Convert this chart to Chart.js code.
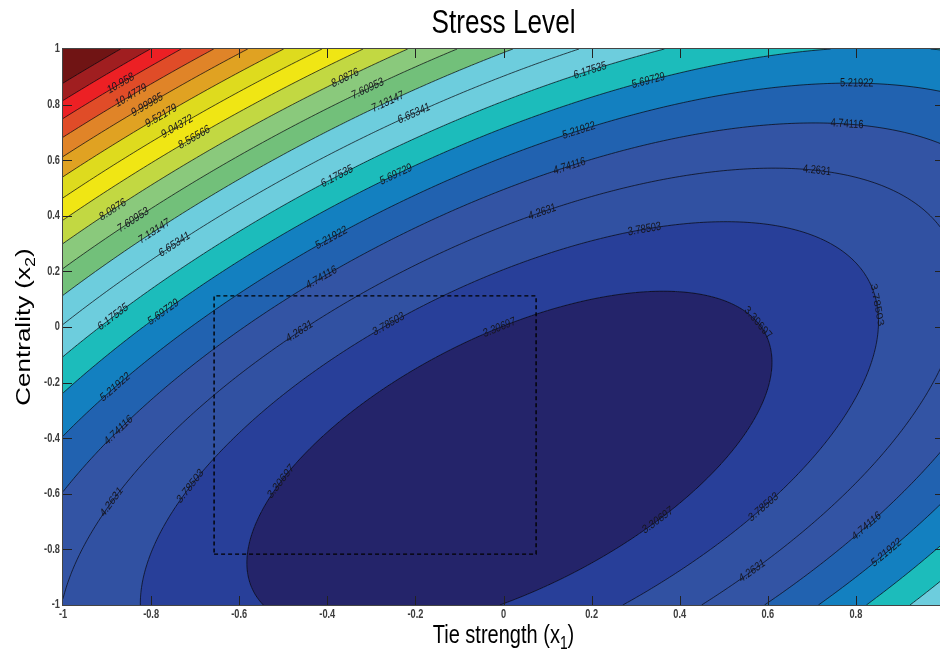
<!DOCTYPE html>
<html lang="en">
<head>
  <meta charset="UTF-8">
  <title>Stress Level</title>
  <script src="https://cdn.jsdelivr.net/npm/chart.js"></script>
  <style>
    * { box-sizing: border-box; margin: 0; padding: 0; }
    html, body { width: 940px; height: 656px; overflow: hidden; background: #fff; }
    #wrap { position: absolute; left: 0; top: 0; width: 960px; height: 656px; }
  </style>
</head>
<body>
  <div id="wrap"><canvas id="stressChart" width="960" height="656"></canvas></div>

  <script>
    // contour levels as printed on the lines (the top two are unlabeled)
    const levels = [3.30697, 3.78503, 4.2631, 4.74116, 5.21922, 5.69729, 6.17535, 6.65341,
                    7.13147, 7.60953, 8.0876, 8.56566, 9.04372, 9.52179, 9.99985, 10.4779,
                    10.958, 11.436, 11.9141];
    const bandColors = ['#24246a', '#283f99', '#3151a2', '#3354a4', '#2162b0', '#1380c0',
                        '#1cbcbb', '#6dcddd', '#6dcddd', '#72c07a', '#8ac97c', '#c2d842',
                        '#f0e614', '#dedb1e', '#e0a222', '#e08428', '#e04c28', '#ec2024',
                        '#a01e20', '#701414'];

    // quadratic stress surface: 1, x1, x2, x1^2, x2^2, x1*x2
    const surfaceCoef = [3.2997, -1.2153, 1.9456, 2.0981, 1.9622, -2.3766];

    const xTicks = [-1, -0.8, -0.6, -0.4, -0.2, 0, 0.2, 0.4, 0.6, 0.8, 1];
    const yTicks = [-1, -0.8, -0.6, -0.4, -0.2, 0, 0.2, 0.4, 0.6, 0.8, 1];
    const xTickText = ['-1', '-0.8', '-0.6', '-0.4', '-0.2', '0', '0.2', '0.4', '0.6', '0.8', '1'];
    const yTickText = ['-1', '-0.8', '-0.6', '-0.4', '-0.2', '0', '0.2', '0.4', '0.6', '0.8', '1'];

    // where the inline labels sit (x1, x2, level)
    const labelX = [-0.871, -0.848, -0.809, -0.773, -0.739, -0.700, -0.886, -0.841, -0.791, -0.734,
                    -0.886, -0.773, -0.882, -0.875, -0.889, -0.705, -0.501, -0.360, -0.310, -0.262,
                    -0.205, 0.196, -0.376, -0.251, 0.174, -0.394, 0.151, 0.090, 0.328, 0.802,
                    0.780, 0.712, 0.321, -0.439, -0.457, -0.258, -0.015, 0.564, 0.843, 0.348,
                    0.589, 0.560, 0.827, 0.871];
    const labelY = [0.878, 0.835, 0.799, 0.755, 0.719, 0.680, 0.421, 0.385, 0.342, 0.284,
                    0.036, 0.054, -0.216, -0.371, -0.630, -0.576, -0.558, 0.896, 0.860, 0.809,
                    0.770, 0.924, 0.540, 0.558, 0.701, 0.324, 0.576, 0.410, 0.888, 0.878,
                    0.730, 0.565, 0.349, 0.205, -0.022, 0.007, 0.007, 0.007, 0.079, -0.694,
                    -0.647, -0.874, -0.719, -0.813];
    const labelLevel = [10.958, 10.4779, 9.99985, 9.52179, 9.04372, 8.56566, 8.0876, 7.60953, 7.13147, 6.65341,
                        6.17535, 5.69729, 5.21922, 4.74116, 4.2631, 3.78503, 3.30697, 8.0876, 7.60953, 7.13147,
                        6.65341, 6.17535, 6.17535, 5.69729, 5.21922, 5.21922, 4.74116, 4.2631, 5.69729, 5.21922,
                        4.74116, 4.2631, 3.78503, 4.74116, 4.2631, 3.78503, 3.30697, 3.30697, 3.78503, 3.30697,
                        3.78503, 4.2631, 4.74116, 5.21922];

    // dashed box
    const boxX = [-0.657, 0.074];
    const boxY = [-0.817, 0.112];

    const c = surfaceCoef;
    function stress(a, b) {
      return c[0] + c[1] * a + c[2] * b + c[3] * a * a + c[4] * b * b + c[5] * a * b;
    }
    function bandOf(z) {
      let k = 0;
      while (k < levels.length && z >= levels[k]) k++;
      return k;
    }
    function hexRgb(h) {
      return [parseInt(h.slice(1, 3), 16), parseInt(h.slice(3, 5), 16), parseInt(h.slice(5, 7), 16)];
    }

    const SQUEEZE = 0.77; // the picture's text is narrower than it is tall
    function squeezedText(ctx, txt, x, y, font, align, angle) {
      ctx.save();
      ctx.translate(x, y);
      ctx.scale(SQUEEZE, 1);
      if (angle) ctx.rotate(angle);
      ctx.font = font;
      ctx.textAlign = align || 'center';
      ctx.fillText(txt, 0, 0);
      ctx.restore();
    }

    const contourPlugin = {
      id: 'contour',
      beforeDatasetsDraw(chart) {
        const { ctx, chartArea: a, scales: { x, y } } = chart;
        const left = Math.round(a.left), top = Math.round(a.top);
        const w = Math.round(a.right) - left, h = Math.round(a.bottom) - top;
        const img = ctx.createImageData(w, h);
        const rgb = bandColors.map(hexRgb);
        for (let j = 0; j < h; j++) {
          const v2 = y.getValueForPixel(top + j + 0.5);
          for (let i = 0; i < w; i++) {
            const col = rgb[bandOf(stress(x.getValueForPixel(left + i + 0.5), v2))];
            const o = (j * w + i) * 4;
            img.data[o] = col[0]; img.data[o + 1] = col[1]; img.data[o + 2] = col[2]; img.data[o + 3] = 255;
          }
        }
        ctx.putImageData(img, left, top);

        // contour lines, marching squares on a fine grid
        const N = 220;
        const gv = [];
        for (let j = 0; j <= N; j++) {
          gv.push([]);
          for (let i = 0; i <= N; i++) gv[j].push(stress(-1 + 2 * i / N, -1 + 2 * j / N));
        }
        const px = i => x.getPixelForValue(-1 + 2 * i / N);
        const py = j => y.getPixelForValue(-1 + 2 * j / N);
        ctx.save();
        ctx.beginPath();
        ctx.rect(a.left, a.top, a.right - a.left, a.bottom - a.top);
        ctx.clip();
        ctx.strokeStyle = 'rgba(8,8,16,0.9)';
        ctx.lineWidth = 0.8;
        levels.forEach(L => {
          ctx.beginPath();
          for (let j = 0; j < N; j++) {
            for (let i = 0; i < N; i++) {
              const cell = [[i, j, gv[j][i]], [i + 1, j, gv[j][i + 1]], [i + 1, j + 1, gv[j + 1][i + 1]], [i, j + 1, gv[j + 1][i]]];
              const pts = [];
              for (let e = 0; e < 4; e++) {
                const p = cell[e], q = cell[(e + 1) % 4];
                if ((p[2] < L) !== (q[2] < L)) {
                  const t = (L - p[2]) / (q[2] - p[2]);
                  pts.push([px(p[0] + t * (q[0] - p[0])), py(p[1] + t * (q[1] - p[1]))]);
                }
              }
              for (let k = 0; k + 1 < pts.length; k += 2) {
                ctx.moveTo(pts[k][0], pts[k][1]);
                ctx.lineTo(pts[k + 1][0], pts[k + 1][1]);
              }
            }
          }
          ctx.stroke();
        });

        // inline labels, pulled onto their line
        const kx = x.getPixelForValue(1) - x.getPixelForValue(0);
        const ky = y.getPixelForValue(1) - y.getPixelForValue(0);
        ctx.fillStyle = '#16161f';
        ctx.textBaseline = 'middle';
        labelX.forEach((lx, n) => {
          let p1 = lx, p2 = labelY[n];
          const L = labelLevel[n];
          let g1 = 0, g2 = 0;
          for (let it = 0; it < 8; it++) {
            g1 = c[1] + 2 * c[3] * p1 + c[5] * p2;
            g2 = c[2] + 2 * c[4] * p2 + c[5] * p1;
            const s = (stress(p1, p2) - L) / (g1 * g1 + g2 * g2);
            p1 -= s * g1; p2 -= s * g2;
          }
          let tx = -(g2 / ky), ty = g1 / kx;
          if (tx < 0) { tx = -tx; ty = -ty; }
          const ang = Math.atan2(ty, tx / SQUEEZE);
          squeezedText(ctx, String(L), x.getPixelForValue(p1), y.getPixelForValue(p2),
            '12px "Liberation Sans", Arial, sans-serif', 'center', ang);
        });
        ctx.restore();
      },
      afterDraw(chart) {
        const { ctx, chartArea: a, scales: { x, y } } = chart;
        ctx.save();
        ctx.strokeStyle = '#222';
        ctx.lineWidth = 1;
        ctx.beginPath();
        xTicks.forEach(v => {
          if (v === xTicks[0] || v === xTicks[xTicks.length - 1]) return;
          const p = Math.round(x.getPixelForValue(v)) + 0.5;
          ctx.moveTo(p, a.bottom); ctx.lineTo(p, a.bottom - 9);
          ctx.moveTo(p, a.top); ctx.lineTo(p, a.top + 9);
        });
        yTicks.forEach(v => {
          if (v === yTicks[0] || v === yTicks[yTicks.length - 1]) return;
          const p = Math.round(y.getPixelForValue(v)) + 0.5;
          ctx.moveTo(a.left, p); ctx.lineTo(a.left + 9, p);
          ctx.moveTo(a.right, p); ctx.lineTo(a.right - 9, p);
        });
        ctx.stroke();
        ctx.strokeStyle = '#444';
        ctx.strokeRect(a.left - 0.5, a.top - 0.5, a.right - a.left + 1, a.bottom - a.top + 1);

        ctx.fillStyle = '#3c3c3c';
        ctx.textBaseline = 'middle';
        const tickFont = 'bold 12px "Liberation Sans", Arial, sans-serif';
        xTicks.forEach((v, i) => squeezedText(ctx, xTickText[i], x.getPixelForValue(v), a.bottom + 10, tickFont, 'center'));
        yTicks.forEach((v, i) => squeezedText(ctx, yTickText[i], a.left - 3, y.getPixelForValue(v), tickFont, 'right'));

        // titles
        ctx.fillStyle = '#000';
        ctx.textBaseline = 'alphabetic';
        const cx = (a.left + a.right) / 2, cy = (a.top + a.bottom) / 2;
        squeezedText(ctx, 'Stress Level', cx, 33, '34px "Liberation Sans", Arial, sans-serif', 'center');

        const big = '26px "Liberation Sans", Arial, sans-serif', small = '18px "Liberation Sans", Arial, sans-serif';
        ctx.font = big;
        const wMain = ctx.measureText('Tie strength (x').width, wClose = ctx.measureText(')').width;
        ctx.font = small;
        const wSub = ctx.measureText('1').width;
        const sx = cx - SQUEEZE * (wMain + wSub + wClose) / 2;
        squeezedText(ctx, 'Tie strength (x', sx, 643, big, 'left');
        squeezedText(ctx, '1', sx + SQUEEZE * wMain, 649, small, 'left');
        squeezedText(ctx, ')', sx + SQUEEZE * (wMain + wSub), 643, big, 'left');

        ctx.font = big;
        const yMain = ctx.measureText('Centrality (x').width;
        const yClose = ctx.measureText(')').width;
        ctx.font = small;
        const ySub = ctx.measureText('2').width;
        const total = yMain + ySub + yClose;
        const base = 30;
        const sy = cy + total / 2;
        squeezedText(ctx, 'Centrality (x', base, sy, big, 'left', -Math.PI / 2);
        squeezedText(ctx, '2', base + 6 * SQUEEZE, sy - yMain, small, 'left', -Math.PI / 2);
        squeezedText(ctx, ')', base, sy - yMain - ySub, big, 'left', -Math.PI / 2);
        ctx.restore();
      }
    };

    const boxPoints = [
      { x: boxX[0], y: boxY[0] }, { x: boxX[1], y: boxY[0] }, { x: boxX[1], y: boxY[1] },
      { x: boxX[0], y: boxY[1] }, { x: boxX[0], y: boxY[0] }
    ];

    new Chart(document.getElementById('stressChart'), {
      type: 'scatter',
      data: {
        datasets: [{
          data: boxPoints,
          showLine: true,
          borderColor: '#000',
          borderWidth: 1.4,
          borderDash: [4, 3],
          pointRadius: 0,
          fill: false
        }]
      },
      options: {
        responsive: false,
        animation: false,
        devicePixelRatio: 1,
        layout: { padding: { left: 0, top: 49, right: 16, bottom: 0 } },
        plugins: { legend: { display: false }, tooltip: { enabled: false }, title: { display: false } },
        scales: {
          x: {
            type: 'linear', min: -1, max: 1,
            ticks: { display: false }, grid: { display: false }, border: { display: false },
            afterFit(s) { s.height = 51; }
          },
          y: {
            type: 'linear', min: -1, max: 1,
            ticks: { display: false }, grid: { display: false }, border: { display: false },
            afterFit(s) { s.width = 63; }
          }
        }
      },
      plugins: [contourPlugin]
    });
  </script>
</body>
</html>
